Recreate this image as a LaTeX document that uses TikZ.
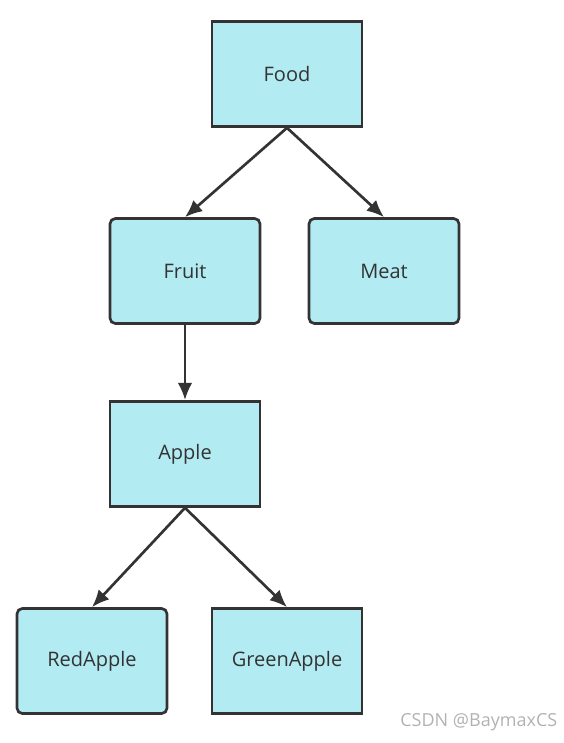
\documentclass[tikz,border=0pt]{standalone}
\usepackage{fontspec}
\setmainfont{Open Sans}
\usetikzlibrary{arrows.meta}
\definecolor{boxfill}{HTML}{B2EBF2}
\definecolor{boxline}{HTML}{333333}

\begin{document}
\begin{tikzpicture}[
    x=0.75pt, y=-0.75pt,
    font=\fontsize{15}{17}\selectfont,
    % Styles
    cls/.style={draw=boxline, fill=boxfill, line width=2pt, minimum width=112.5pt, minimum height=78.75pt, inner sep=0pt, text=boxline},
    obj/.style={cls, rounded corners=4pt},
    arrow/.style={-{Latex[length=13pt, width=11pt]}, line width=2pt, draw=boxline},
    wmark/.style={font=\fontsize{13.5}{15}\selectfont, text=gray!60}
]
    \useasboundingbox (0,0) rectangle (564,743);

    % --- Level 1 ---
    \node[cls] (food) at (287, 74) {Food};

    % --- Level 2 ---
    \node[obj] (fruit) at (185, 271) {Fruit};
    \node[obj] (meat) at (384, 271) {Meat};

    % --- Level 3 ---
    \node[cls] (apple) at (185, 454) {Apple};

    % --- Level 4 ---
    \node[obj] (redapple) at (92, 661) {RedApple};
    \node[cls] (greenapple) at (287, 661) {GreenApple};

    \draw[arrow] (food.south) -- (fruit.north);
    \draw[arrow] (food.south) -- (meat.north);
    \draw[arrow] (fruit.south) -- (apple.north);
    \draw[arrow] (apple.south) -- (redapple.north);
    \draw[arrow] (apple.south) -- (greenapple.north);

    % Watermark
    \node[wmark, anchor=east] (wm) at (562, 722) {CSDN @BaymaxCS};

\end{tikzpicture}
\end{document}
